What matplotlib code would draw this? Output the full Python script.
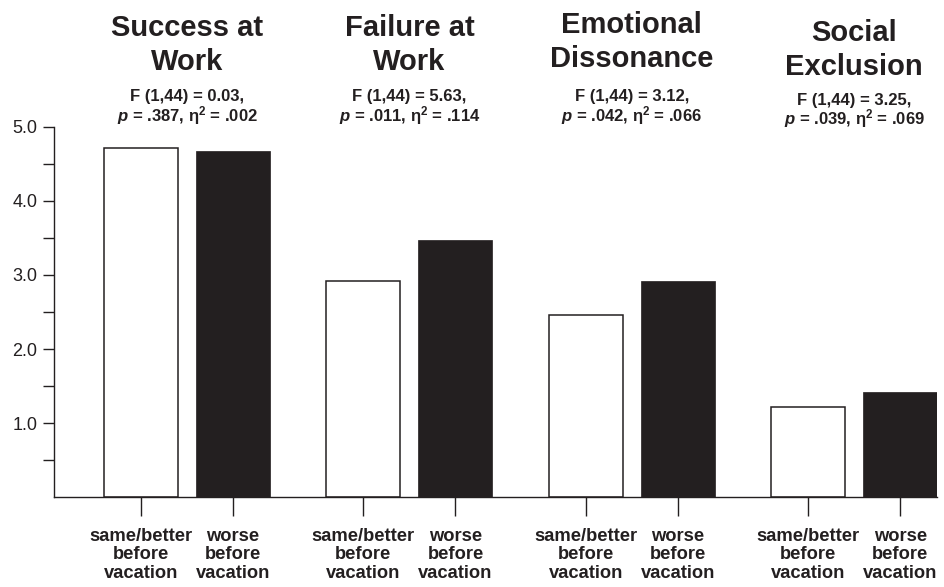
import numpy as np
import matplotlib
import matplotlib.pyplot as plt
import matplotlib.transforms as mtransforms

matplotlib.use("Agg")

# ── data ─────────────────────────────────────────────
groups = ["Success at\nWork", "Failure at\nWork",
          "Emotional\nDissonance", "Social\nExclusion"]
same_better = [4.72, 2.92, 2.46, 1.22]
worse = [4.68, 3.47, 2.92, 1.42]
f_text = ["F (1,44) = 0.03,", "F (1,44) = 5.63,",
          "F (1,44) = 3.12,", "F (1,44) = 3.25,"]
p_vals = [".387", ".011", ".042", ".039"]
eta_vals = [".002", ".114", ".066", ".069"]
bar_labels = ["same/better\nbefore\nvacation", "worse\nbefore\nvacation"]

INK = "#231f20"

plt.rcParams["font.family"] = ["Liberation Sans", "DejaVu Sans"]
plt.rcParams["mathtext.fontset"] = "custom"
plt.rcParams["mathtext.rm"] = "Liberation Sans:bold"
plt.rcParams["mathtext.it"] = "Liberation Sans:italic:bold"
plt.rcParams["mathtext.bf"] = "Liberation Sans:bold"

W, H = 944, 587
fig = plt.figure(figsize=(W / 100, H / 100), dpi=100)
ax = fig.add_axes([54 / W, 90 / H, (937 - 54) / W, (497 - 127) / H])

x = np.arange(len(groups))
off, bw = 0.207, 0.333
ax.bar(x - off, same_better, width=bw, color="white", edgecolor=INK, linewidth=1.1)
ax.bar(x + off, worse, width=bw, color=INK, edgecolor=INK, linewidth=0.5)

ax.set_xlim(-0.598, 3.372)
ax.set_ylim(0, 5)

for s in ("top", "right"):
    ax.spines[s].set_visible(False)
for s in ("left", "bottom"):
    ax.spines[s].set_color(INK)
    ax.spines[s].set_linewidth(1.0)

ax.set_yticks([1, 2, 3, 4, 5])
ax.set_yticklabels(["1.0", "2.0", "3.0", "4.0", "5.0"], fontsize=13, color=INK)
ax.set_yticks(np.arange(0.5, 5, 1.0), minor=True)
ax.tick_params(axis="y", which="both", direction="out", length=8, width=1.0,
               color=INK, pad=4)

ticks = np.concatenate([[i - off, i + off] for i in x])
ax.set_xticks(ticks)
ax.set_xticklabels(bar_labels * len(groups), fontsize=13.2, fontweight="bold",
                   color=INK, linespacing=1.12)
ax.tick_params(axis="x", direction="out", length=14, width=1.0, color=INK, pad=8)

trans = mtransforms.blended_transform_factory(ax.transData, fig.transFigure)
title_y = [45, 45, 42, 50]
for i, g in enumerate(groups):
    ax.text(x[i], 1 - title_y[i] / H, g, transform=trans, ha="center", va="center",
            fontsize=21, fontweight="bold", color=INK, linespacing=1.25)
    dy = 3 if i == 3 else 0
    ax.text(x[i], 1 - (97 + dy) / H, f_text[i], transform=trans, ha="center",
            va="center", fontsize=12, fontweight="bold", color=INK)
    ax.text(x[i], 1 - (116 + dy) / H,
            r"$p$ = " + p_vals[i] + r", η$^{2}$ = " + eta_vals[i],
            transform=trans, ha="center", va="center",
            fontsize=12, fontweight="bold", color=INK)

fig.savefig("out.png", dpi=100)
